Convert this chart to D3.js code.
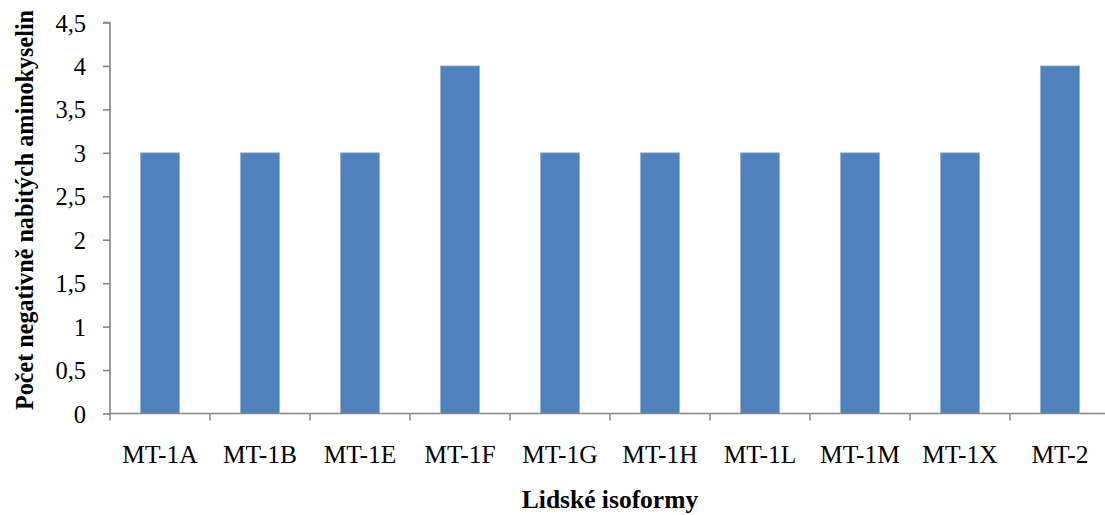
<!DOCTYPE html>
<html>
<head>
<meta charset="utf-8">
<script src="https://cdn.jsdelivr.net/npm/d3@7"></script>
<style>
  html, body { margin: 0; padding: 0; background: #fff; }
  svg { display: block; }
</style>
</head>
<body>
<svg id="chart" width="1105" height="515"></svg>
<script>
// Isoform names and count of negatively charged amino acids
const categories = ["MT-1A", "MT-1B", "MT-1E", "MT-1F", "MT-1G", "MT-1H", "MT-1L", "MT-1M", "MT-1X", "MT-2"];
const values = [3, 3, 3, 4, 3, 3, 3, 3, 3, 4];
const yTicks = [0, 0.5, 1, 1.5, 2, 2.5, 3, 3.5, 4, 4.5];
const xTitle = "Lidské isoformy";
const yTitle = "Počet negativně nabitých aminokyselin";

const svg = d3.select("#chart");
const plotLeft = 110, plotRight = 1110, plotTop = 22.5, plotBottom = 413.5;
const serif = "'Liberation Serif', 'Times New Roman', serif";
const axisColor = "#868686";

const x = d3.scaleBand().domain(categories).range([plotLeft, plotRight]).paddingInner(0.61).paddingOuter(0.305);
const y = d3.scaleLinear().domain([0, 4.5]).range([plotBottom, plotTop]);

// bars
svg.append("g").selectAll("rect")
  .data(categories.map((c, i) => ({ c, v: values[i] })))
  .join("rect")
  .attr("x", d => x(d.c))
  .attr("width", x.bandwidth())
  .attr("y", d => y(d.v))
  .attr("height", d => y(0) - y(d.v))
  .attr("fill", "#4F81BD")
  .attr("stroke", "#8FB0DA")
  .attr("stroke-width", 0.8);

// y axis
const yAxis = svg.append("g")
  .attr("transform", `translate(${plotLeft},0)`)
  .call(d3.axisLeft(y).tickValues(yTicks).tickSize(7).tickPadding(17)
    .tickFormat(d => String(d).replace(".", ",")));
yAxis.selectAll("path, line").attr("stroke", axisColor).attr("stroke-width", 1.6);
yAxis.select(".domain").attr("d", `M-7,${plotTop}H0V${plotBottom}`);
yAxis.selectAll("text").attr("font-family", serif).attr("font-size", 24.5).attr("fill", "#000").attr("dy", "0.35em");

// x axis: ticks at category boundaries
const boundaries = d3.range(categories.length + 1).map(i => plotLeft + i * x.step());
const xAxisG = svg.append("g");
xAxisG.append("line")
  .attr("x1", plotLeft).attr("x2", plotRight).attr("y1", plotBottom).attr("y2", plotBottom)
  .attr("stroke", axisColor).attr("stroke-width", 1.6);
xAxisG.selectAll("line.tick")
  .data(boundaries)
  .join("line")
  .attr("class", "tick")
  .attr("x1", d => d).attr("x2", d => d)
  .attr("y1", plotBottom).attr("y2", plotBottom + 7)
  .attr("stroke", axisColor).attr("stroke-width", 1.6);
xAxisG.selectAll("text")
  .data(categories)
  .join("text")
  .attr("x", d => x(d) + x.bandwidth() / 2)
  .attr("y", 462.5)
  .attr("text-anchor", "middle")
  .attr("font-family", serif)
  .attr("font-size", 25.5)
  .attr("fill", "#000")
  .text(d => d);

// axis titles
svg.append("text")
  .attr("x", (plotLeft + plotRight) / 2)
  .attr("y", 508)
  .attr("text-anchor", "middle")
  .attr("font-family", serif)
  .attr("font-weight", "bold")
  .attr("font-size", 25.5)
  .text(xTitle);

svg.append("text")
  .attr("transform", `translate(33,210) rotate(-90)`)
  .attr("text-anchor", "middle")
  .attr("font-family", serif)
  .attr("font-weight", "bold")
  .attr("font-size", 24.5)
  .attr("textLength", 400)
  .attr("lengthAdjust", "spacingAndGlyphs")
  .text(yTitle);
</script>
</body>
</html>
